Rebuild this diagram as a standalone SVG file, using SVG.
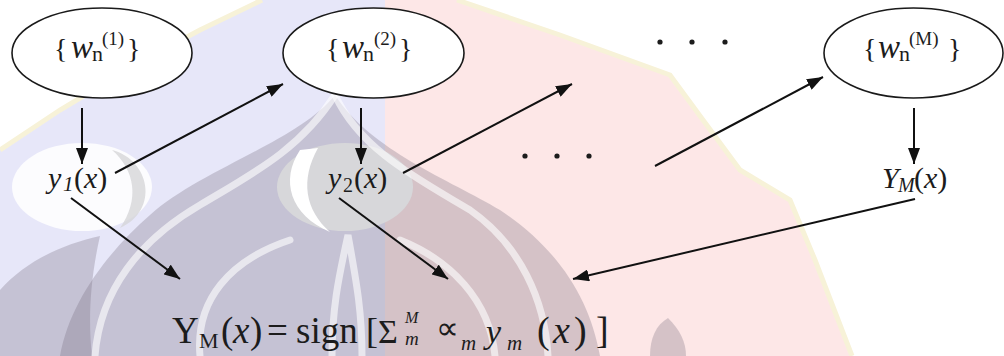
<svg xmlns="http://www.w3.org/2000/svg" width="1004" height="356" viewBox="0 0 1004 356">
  <style>
    .node ellipse { fill: #ffffff; stroke: #1a1a1a; stroke-width: 1.6; }
    .lbl { font-family: "Liberation Serif", "Times New Roman", serif; fill: #1c1c1c; }
    .it { font-style: italic; }
    .conn line { stroke: #111111; stroke-width: 2; fill: none; }
    .dot { fill: #1c1c1c; }
    .wm-gray { fill: #6e6478; fill-opacity: 0.28; }
    .band { fill: none; stroke: #ffffff; stroke-opacity: 0.6; stroke-width: 7; stroke-linecap: round; }
    .edge { fill: none; stroke: #f7f2d8; stroke-width: 5; }
  </style>
  <defs>
    <marker id="ah" viewBox="0 0 16 12" refX="16" refY="6" markerWidth="16" markerHeight="12" orient="auto" markerUnits="userSpaceOnUse">
      <path d="M0,0 L16,6 L0,12 Z" fill="#111111"/>
    </marker>
  </defs>

  <!-- background watermark -->
  <g id="watermark">
    <rect x="0" y="0" width="1004" height="356" fill="#ffffff"/>
    <path d="M0,150 L60,110 L140,62 L200,30 L262,0 L385,0 L385,356 L0,356 Z" fill="#e7e7f9"/>
    <path d="M385,0 L457,0 L560,35 L670,75 L703,120 L740,170 L790,200 L815,260 L852,356 L385,356 Z" fill="#fde7e7"/>
    <path d="M0,150 L60,110 L140,62 L200,30 L262,0" class="edge"/>
    <path d="M457,0 L560,35 L670,75 L703,120 L740,170 L790,200 L815,260 L852,356" class="edge"/>
    <path d="M335,95 C300,140 200,170 150,215 C110,250 70,300 60,356 L600,356 C590,300 560,250 500,210 C450,180 370,150 335,95 Z" class="wm-gray"/>
    <path d="M0,356 L0,290 C25,262 60,245 100,236 C90,280 88,320 92,356 Z" class="wm-gray"/>
    <path d="M650,356 C650,338 656,325 668,318 C680,330 686,342 686,356 Z" class="wm-gray"/>
    <ellipse cx="82" cy="187" rx="70" ry="44" fill="#ffffff" fill-opacity="0.85"/>
    <path d="M112,150 C150,160 160,210 120,228 C140,200 135,170 112,150 Z" fill="#d6d6d8" fill-opacity="0.8"/>
    <ellipse cx="345" cy="187" rx="68" ry="44" fill="#d7d7da"/>
    <path d="M300,150 C280,180 290,215 330,232 C305,210 300,180 318,148 Z" fill="#ffffff"/>
    <path d="M95,356 C100,290 140,240 200,205 C250,175 300,150 335,95" class="band"/>
    <path d="M335,95 C360,150 420,180 470,210 C520,245 545,300 548,356" class="band"/>
    <path d="M200,356 C195,300 230,260 290,240" class="band"/>
    <path d="M400,240 C450,260 490,300 495,356" class="band"/>
    <path d="M332,356 C332,310 338,280 348,235 C356,280 362,310 362,356" class="band"/>
  </g>

  <!-- connectors -->
  <g id="connectors" class="conn">
    <line x1="82" y1="108" x2="82" y2="164" marker-end="url(#ah)"/>
    <line x1="361" y1="108" x2="361" y2="164" marker-end="url(#ah)"/>
    <line x1="914" y1="108" x2="914" y2="164" marker-end="url(#ah)"/>
    <line x1="115" y1="173" x2="283" y2="84" marker-end="url(#ah)"/>
    <line x1="403" y1="173" x2="572" y2="84" marker-end="url(#ah)"/>
    <line x1="655" y1="166" x2="823" y2="77" marker-end="url(#ah)"/>
    <line x1="71" y1="198" x2="180" y2="279" marker-end="url(#ah)"/>
    <line x1="339" y1="198" x2="448" y2="279" marker-end="url(#ah)"/>
    <line x1="915" y1="199" x2="573" y2="279" marker-end="url(#ah)"/>
  </g>

  <!-- ellipse nodes -->
  <g id="w1" class="node">
    <ellipse cx="102" cy="53" rx="90" ry="45"/>
    <text class="lbl"><tspan x="54" y="58" font-size="28">{</tspan><tspan x="71" y="58" font-size="33" class="it">w</tspan><tspan x="92" y="61" font-size="22">n</tspan><tspan x="102" y="45" font-size="19">(1)</tspan><tspan x="127" y="58" font-size="28">}</tspan></text>
  </g>
  <g id="w2" class="node">
    <ellipse cx="373.5" cy="53" rx="90.5" ry="45"/>
    <text class="lbl"><tspan x="326" y="58" font-size="28">{</tspan><tspan x="342" y="58" font-size="33" class="it">w</tspan><tspan x="363" y="61" font-size="22">n</tspan><tspan x="374" y="45" font-size="19">(2)</tspan><tspan x="399" y="58" font-size="28">}</tspan></text>
  </g>
  <g id="wM" class="node">
    <ellipse cx="913.5" cy="53" rx="89.5" ry="45"/>
    <text class="lbl"><tspan x="863" y="58" font-size="28">{</tspan><tspan x="878" y="58" font-size="33" class="it">w</tspan><tspan x="899" y="61" font-size="22">n</tspan><tspan x="909" y="45" font-size="19">(M)</tspan><tspan x="948" y="58" font-size="28">}</tspan></text>
  </g>

  <!-- dots -->
  <g id="dots-top">
    <circle class="dot" cx="660" cy="42" r="2.6"/>
    <circle class="dot" cx="692" cy="42" r="2.6"/>
    <circle class="dot" cx="725" cy="42" r="2.6"/>
  </g>
  <g id="dots-mid">
    <circle class="dot" cx="525" cy="156" r="2.6"/>
    <circle class="dot" cx="557" cy="156" r="2.6"/>
    <circle class="dot" cx="589" cy="156" r="2.6"/>
  </g>

  <!-- output nodes -->
  <g id="y1">
    <text class="lbl" font-size="30"><tspan x="48" y="188" class="it">y</tspan><tspan x="63" y="191" font-size="21" class="it">1</tspan><tspan x="74" y="188">(</tspan><tspan class="it">x</tspan><tspan>)</tspan></text>
  </g>
  <g id="y2">
    <text class="lbl" font-size="30"><tspan x="328" y="188" class="it">y</tspan><tspan x="343" y="192" font-size="20">2</tspan><tspan x="354" y="188">(</tspan><tspan class="it">x</tspan><tspan>)</tspan></text>
  </g>
  <g id="yM">
    <text class="lbl" font-size="30"><tspan x="882" y="188" class="it">Y</tspan><tspan x="898" y="192" font-size="20" class="it">M</tspan><tspan x="914" y="188">(</tspan><tspan class="it">x</tspan><tspan>)</tspan></text>
  </g>

  <!-- formula -->
  <g id="formula">
    <text class="lbl" font-size="37"><tspan x="172" y="343">Y</tspan><tspan x="199" y="348" font-size="22">M</tspan><tspan x="221" y="343">(</tspan><tspan x="233" y="343" class="it">x</tspan><tspan x="250" y="343">)</tspan><tspan x="267" y="343">=</tspan><tspan x="296" y="343">sign</tspan></text>
    <text class="lbl" fill="#1a1a2a"><tspan x="366" y="343" font-size="36">[</tspan><tspan x="378" y="343" font-size="34">Σ</tspan><tspan x="405" y="323" font-size="16" class="it">M</tspan><tspan x="405" y="345" font-size="19" class="it">m</tspan><tspan x="436" y="339" font-size="32">∝</tspan><tspan x="461" y="350" font-size="21" class="it">m</tspan><tspan x="486" y="343" font-size="34" class="it">y</tspan><tspan x="507" y="350" font-size="21" class="it">m</tspan><tspan x="537" y="343" font-size="38">(</tspan><tspan x="553" y="343" font-size="38" class="it">x</tspan><tspan x="574" y="343" font-size="38">)</tspan><tspan x="596" y="343" font-size="38">]</tspan></text>
  </g>
</svg>
